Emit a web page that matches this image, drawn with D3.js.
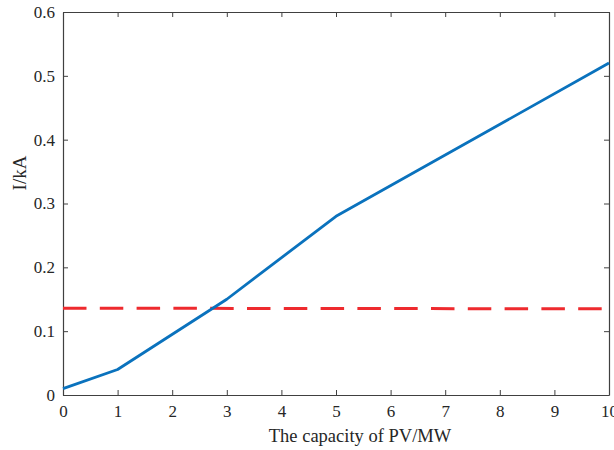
<!DOCTYPE html>
<html>
<head>
<meta charset="utf-8">
<script src="https://cdn.jsdelivr.net/npm/d3@7"></script>
<style>
  html, body { margin: 0; padding: 0; background: #fff; }
  svg { display: block; }
  text { font-family: "Liberation Serif", "Times New Roman", serif; fill: #262626; }
</style>
</head>
<body>
<script>
// PV capacity (MW) and fault current (kA)
const capacity = [0, 1, 3, 5, 10];
const current = [0.01, 0.04, 0.15, 0.28, 0.52];

// Reference current level (kA)
const limitX = [0, 10];
const limitY = [0.136, 0.135];

const xTicks = [0, 1, 2, 3, 4, 5, 6, 7, 8, 9, 10];
const yTicks = [0, 0.1, 0.2, 0.3, 0.4, 0.5, 0.6];
const yTickLabels = ["0", "0.1", "0.2", "0.3", "0.4", "0.5", "0.6"];

const W = 614, H = 450;
const plotLeft = 63, plotRight = 609, plotTop = 12, plotBottom = 395;

const svg = d3.select("body").append("svg").attr("width", W).attr("height", H);

const x = d3.scaleLinear().domain([0, 10]).range([plotLeft, plotRight]);
const y = d3.scaleLinear().domain([0, 0.6]).range([plotBottom, plotTop]);

const axisColor = "#404040";
const fontSize = 17;

// Axes box with inward ticks on all four sides
const gx = svg.append("g").attr("transform", `translate(0,${plotBottom})`)
  .call(d3.axisBottom(x).tickValues(xTicks).tickSizeInner(-5).tickSizeOuter(0).tickPadding(10).tickFormat(d3.format("d")));
const gxTop = svg.append("g").attr("transform", `translate(0,${plotTop})`)
  .call(d3.axisTop(x).tickValues(xTicks).tickSizeInner(-5).tickSizeOuter(0).tickFormat(""));
const gy = svg.append("g").attr("transform", `translate(${plotLeft},0)`)
  .call(d3.axisLeft(y).tickValues(yTicks).tickSizeInner(-5).tickSizeOuter(0).tickPadding(8).tickFormat((d, i) => yTickLabels[i]));
const gyRight = svg.append("g").attr("transform", `translate(${plotRight},0)`)
  .call(d3.axisRight(y).tickValues(yTicks).tickSizeInner(-5).tickSizeOuter(0).tickFormat(""));

[gx, gxTop, gy, gyRight].forEach(g => {
  g.select(".domain").attr("stroke", axisColor).attr("stroke-width", 1.2);
  g.selectAll(".tick line").attr("stroke", axisColor).attr("stroke-width", 1);
  g.selectAll("text").attr("font-size", fontSize).attr("font-family", "Liberation Serif").attr("fill", "#262626");
});

// Reference level line (dashed)
const line = d3.line().x(d => x(d[0])).y(d => y(d[1]));
svg.append("path")
  .datum(limitX.map((v, i) => [v, limitY[i]]))
  .attr("d", line)
  .attr("fill", "none")
  .attr("stroke", "#ee2a2e")
  .attr("stroke-width", 3)
  .attr("stroke-dasharray", "23.5,13.3");

// Current curve
svg.append("path")
  .datum(capacity.map((v, i) => [v, current[i]]))
  .attr("d", line)
  .attr("fill", "none")
  .attr("stroke", "#0a72bd")
  .attr("stroke-width", 2.8)
  .attr("stroke-linejoin", "round");

// Axis titles
svg.append("text")
  .attr("x", 360).attr("y", 442)
  .attr("text-anchor", "middle")
  .attr("font-size", 18.5)
  .text("The capacity of PV/MW");

svg.append("text")
  .attr("transform", "translate(26,173) rotate(-90)")
  .attr("text-anchor", "middle")
  .attr("font-size", 19)
  .text("I/kA");
</script>
</body>
</html>
